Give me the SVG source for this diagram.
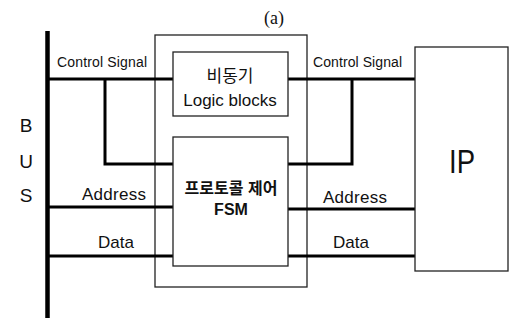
<svg xmlns="http://www.w3.org/2000/svg" width="515" height="322" viewBox="0 0 515 322">
<style>
.box{fill:#fff;stroke:#222;stroke-width:1.3}
.wire{fill:none;stroke:#000;stroke-width:3}
.lbl{font-family:"Liberation Sans",Arial,sans-serif;fill:#111}
.kr{font-family:"Liberation Sans","Noto Sans CJK KR",sans-serif;fill:#111}
</style>
<rect width="515" height="322" fill="#fff"/>
<text x="274" y="24" font-family="'Liberation Serif',serif" font-size="18" text-anchor="middle" fill="#111">(a)</text>
<g id="outer"><rect class="box" x="155" y="35" width="152" height="252"/></g>
<g id="connectors">
<line x1="47.5" y1="31" x2="47.5" y2="318" stroke="#000" stroke-width="4.5"/>
<polyline class="wire" points="48,79 173,79"/>
<polyline class="wire" points="105,79 105,164 173,164"/>
<polyline class="wire" points="288,79 415,79"/>
<polyline class="wire" points="352,79 352,164 288,164"/>
<polyline class="wire" points="48,207 173,207"/>
<polyline class="wire" points="288,209 415,209"/>
<polyline class="wire" points="48,256 173,256"/>
<polyline class="wire" points="288,256 415,256"/>
</g>
<g id="logic"><rect class="box" x="173" y="52" width="115" height="64"/>
<text class="kr" x="230" y="82" font-size="17" text-anchor="middle">비동기</text>
<text class="lbl" x="230" y="106" font-size="17" text-anchor="middle">Logic blocks</text></g>
<g id="fsm"><rect class="box" x="173" y="137" width="115" height="129"/>
<text class="kr" x="231" y="194" font-size="16" font-weight="bold" text-anchor="middle">프로토콜 제어</text>
<text class="lbl" x="231" y="215" font-size="16" font-weight="bold" text-anchor="middle">FSM</text></g>
<g id="ip"><rect class="box" x="415" y="47" width="93" height="224"/>
<text class="lbl" x="462" y="173" font-size="33" text-anchor="middle" textLength="26" lengthAdjust="spacingAndGlyphs">IP</text></g>
<g id="bus">
<text class="lbl" x="26" y="132" font-size="19" text-anchor="middle">B</text>
<text class="lbl" x="26" y="168" font-size="19" text-anchor="middle">U</text>
<text class="lbl" x="26" y="202" font-size="19" text-anchor="middle">S</text>
</g>
<g id="labels">
<text class="lbl" x="57" y="67" font-size="14" textLength="90">Control Signal</text>
<text class="lbl" x="313" y="67" font-size="14" textLength="89">Control Signal</text>
<text class="lbl" x="82" y="200" font-size="17" textLength="64">Address</text>
<text class="lbl" x="98" y="248" font-size="17">Data</text>
<text class="lbl" x="323" y="203" font-size="17" textLength="64">Address</text>
<text class="lbl" x="333" y="248" font-size="17">Data</text>
</g>
</svg>
